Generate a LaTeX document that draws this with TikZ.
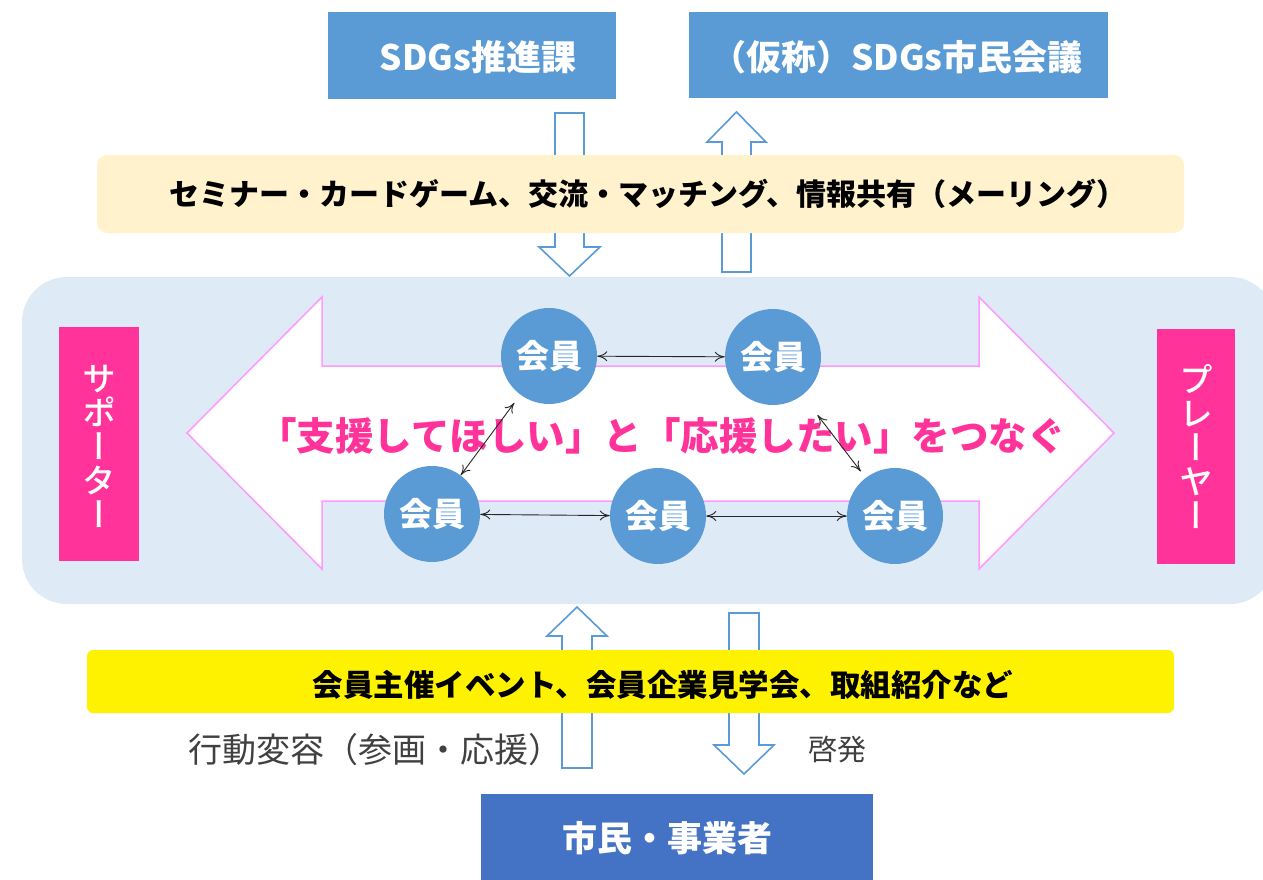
\documentclass[tikz,border=0pt]{standalone}
\usepackage{fontspec}
\setmainfont{Noto Sans CJK JP}
\newfontfamily\jpv{Noto Sans CJK JP Medium}[RawFeature=+vert]
\newfontfamily\jpm{Noto Sans CJK JP Medium}
\usetikzlibrary{arrows.meta}
\definecolor{boxblue}{HTML}{5B9BD5}
\definecolor{darkblue}{HTML}{4472C4}
\definecolor{beige}{HTML}{FFF2CC}
\definecolor{paleblue}{HTML}{DEEAF6}
\definecolor{hotpink}{HTML}{FF3399}
\definecolor{lilac}{HTML}{FF99FF}
\definecolor{txtgray}{HTML}{404040}
\tikzset{
  topbox/.style={fill=boxblue, draw=none},
  hollow/.style={draw=boxblue, line width=1.6pt, fill=white, line join=miter},
  member/.style={circle, fill=boxblue, minimum size=96pt, inner sep=0pt, text=white, font=\bfseries\fontsize{33}{33}\selectfont},
  link/.style={{To[length=10pt,width=10pt]}-{To[length=10pt,width=10pt]}, draw=black!85, line width=0.9pt},
  pinkbox/.style={fill=hotpink, draw=none},
  vtext/.style={text=white, align=center, font=\jpv\fontsize{34}{34}\selectfont},
}
\begin{document}
\lineskiplimit=-100pt
\begin{tikzpicture}[x=1pt,y=-1pt]
\useasboundingbox (0,0) rectangle (1263,880);
\clip (0,0) rectangle (1263,880);
% top boxes
\fill[topbox] (328,12) rectangle (616,99);
\node[text=white, font=\bfseries\fontsize{35}{35}\selectfont] (tbl) at (478,57) {SDGs推進課};
\fill[topbox] (689,12) rectangle (1108,98);
\node[text=white, font=\bfseries\fontsize{35}{35}\selectfont] (tbr) at (897,57) {（仮称）SDGs市民会議};
% top hollow arrows
\draw[hollow] (555,113) -- (584,113) -- (584,247) -- (600,247) -- (569.5,276) -- (539,247) -- (555,247) -- cycle;
\draw[hollow] (722,272) -- (751,272) -- (751,142) -- (766,142) -- (736.5,112) -- (707,142) -- (722,142) -- cycle;
% beige band
\fill[beige, rounded corners=10pt] (97,155) rectangle (1184,233);
\node[font=\bfseries\fontsize{30}{30}\selectfont] (band1) at (648,194) {セミナー・カードゲーム、交流・マッチング、情報共有（メーリング）};
% big pale blue area
\fill[paleblue, rounded corners=45pt] (22,277) rectangle (1275,604);
% big double arrow
\draw[draw=lilac, line width=1.5pt, fill=white] (187,433) -- (322,297) -- (322,366) -- (979,366) -- (979,297) -- (1114,433) -- (979,569) -- (979,501) -- (322,501) -- (322,569) -- cycle;
% side boxes
\fill[pinkbox] (59,327) rectangle (139,561);
\node[vtext] (sup) at (99,446) {サ\\ポ\\ー\\タ\\ー};
\fill[pinkbox] (1157,329) rectangle (1235,564);
\node[vtext] (ply) at (1196,447) {プ\\レ\\ー\\ヤ\\ー};
% center text
\node[text=hotpink, font=\bfseries\fontsize{38.5}{38.5}\selectfont] (msg) at (662,436) {「支援してほしい」と「応援したい」をつなぐ};
% members
\node[member] (m1) at (549,356) {会員};
\node[member] (m2) at (773,357) {会員};
\node[member] (m3) at (432,514) {会員};
\node[member] (m4) at (658,516) {会員};
\node[member] (m5) at (895,516) {会員};
\draw[link] (m1) -- (m2);
\draw[link, shorten <=10pt] (m1) -- (m3);
\draw[link] (m3) -- (m4);
\draw[link] (m4) -- (m5);
\draw[link, shorten <=25pt, shorten >=8pt] (m2) -- (m5);
% bottom hollow arrows
\draw[hollow] (562,768) -- (592,768) -- (592,636) -- (607,636) -- (577,607) -- (547,636) -- (562,636) -- cycle;
\draw[hollow] (729,613) -- (759,613) -- (759,745) -- (774,745) -- (744,774) -- (714,745) -- (729,745) -- cycle;
% yellow band
\fill[yellow, rounded corners=6pt] (87,650) rectangle (1174,713);
\node[font=\bfseries\fontsize{30.5}{30.5}\selectfont] (band2) at (663,685) {会員主催イベント、会員企業見学会、取組紹介など};
% labels
\node[text=txtgray, font=\fontsize{34}{34}\selectfont] (lab1) at (375,750) {行動変容（参画・応援）};
\node[text=txtgray, font=\fontsize{29}{29}\selectfont] (lab2) at (837,750) {啓発};
% bottom box
\fill[darkblue] (481,794) rectangle (873,880);
\node[text=white, font=\bfseries\fontsize{35}{35}\selectfont] (cit) at (667,838) {市民・事業者};
\end{tikzpicture}
\end{document}
